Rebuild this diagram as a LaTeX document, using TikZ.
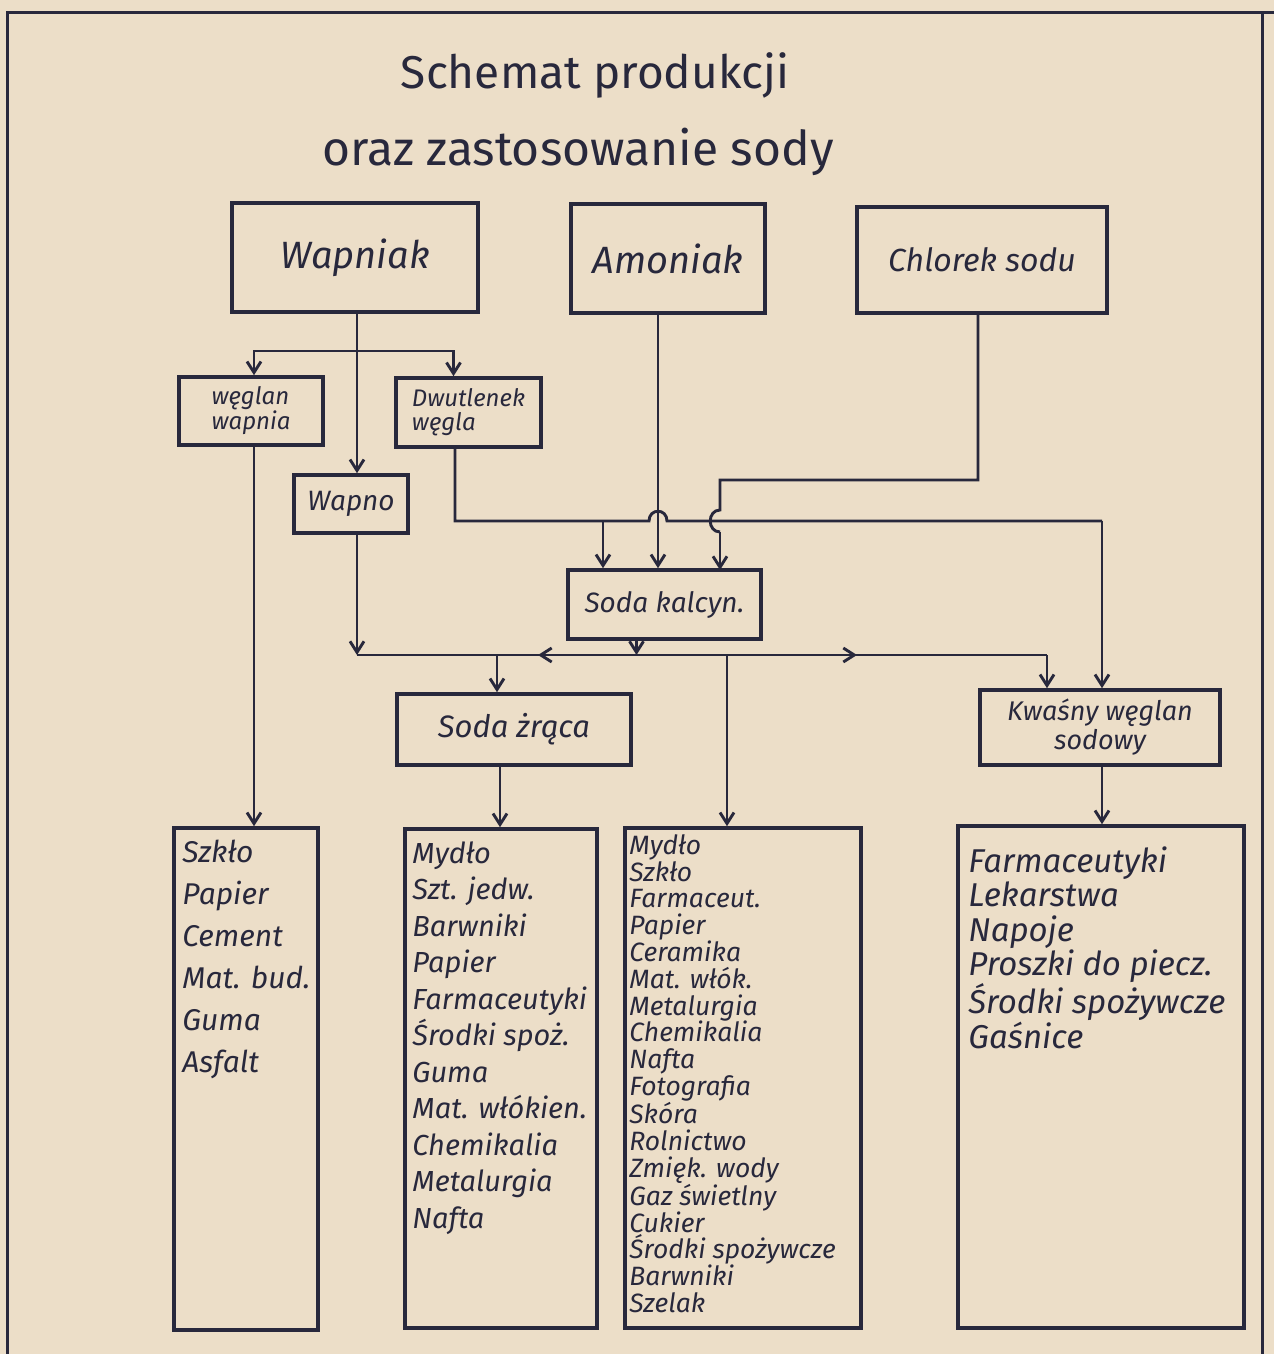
\documentclass[tikz,border=0pt]{standalone}
\usepackage{fontspec}
\setmainfont{Fira Sans}
\usetikzlibrary{arrows.meta}
\definecolor{paper}{RGB}{236,222,200}
\definecolor{ink}{RGB}{40,40,60}
\begin{document}
\begin{tikzpicture}[x=1pt,y=-1pt,
  box/.style={draw=ink, line width=3.6pt, inner sep=0pt, align=center, text=ink,
    font=\itshape\fontsize{#1}{#1}\selectfont},
  listtext/.style={inner sep=0pt, align=left, text=ink, anchor=north west,
    font=\itshape\fontsize{#1}{1.4*#1}\selectfont},
  wire/.style={draw=ink, line width=2.9pt},
  arr/.style={wire, -{Straight Barb[length=11pt,width=14pt]}},
  titletext/.style={text=ink, inner sep=0pt, font=\fontsize{#1}{#1}\selectfont}]
\useasboundingbox (0,0) rectangle (1274,1354);
\fill[paper] (0,0) rectangle (1274,1354);
% frame
\draw[ink, line width=3pt] (7,1354) -- (7,13) -- (1274,13);
\draw[ink, line width=3pt] (1262,13) -- (1262,1354);

% title
\node[titletext=46] (t1) at (595,75) {Schemat produkcji};
\node[titletext=48] (t2) at (578,152) {oraz zastosowanie sody};

% boxes
\node[box=38, minimum width=246pt, minimum height=109pt] (wap) at (355,257.5) {Wapniak};
\node[box=38, minimum width=194pt, minimum height=109pt] (amo) at (668,258.5) {Amoniak};
\node[box=32, minimum width=250pt, minimum height=106pt] (chl) at (982,260) {Chlorek sodu};
\node[box=24, minimum width=144pt, minimum height=68pt, align=left] (wwap) at (251,411) {węglan\\wapnia};
\node[box=24, minimum width=145pt, minimum height=69pt, align=left] (dwu) at (468.5,412.5) {Dwutlenek\\węgla};
\node[box=28, minimum width=114pt, minimum height=58pt] (wapno) at (351,504) {Wapno};
\node[box=28, minimum width=193pt, minimum height=69pt] (kalc) at (664.5,604.5) {Soda kalcyn.};
\node[box=31, minimum width=234pt, minimum height=71pt] (zrac) at (514,729.5) {Soda żrąca};
\node[box=27, minimum width=240pt, minimum height=75pt, font=\itshape\fontsize{27}{29}\selectfont] (kwas) at (1100,727.5) {Kwaśny węglan\\sodowy};

\node[box=10, minimum width=144pt, minimum height=502pt] (l1) at (246,1079) {};
\node[box=10, minimum width=192pt, minimum height=499pt] (l2) at (501,1078.5) {};
\node[box=10, minimum width=236pt, minimum height=500pt] (l3) at (743,1078) {};
\node[box=10, minimum width=286pt, minimum height=502pt] (l4) at (1101,1077) {};

% list texts
\node[listtext=30, font=\itshape\fontsize{30}{42}\selectfont] (x1) at ([xshift=10pt,yshift=-14pt]l1.north west)
  {Szkło\\Papier\\Cement\\Mat. bud.\\Guma\\Asfalt};
\node[listtext=29, font=\itshape\fontsize{29}{36.5}\selectfont] (x2) at ([xshift=9pt,yshift=-14pt]l2.north west)
  {Mydło\\Szt. jedw.\\Barwniki\\Papier\\Farmaceutyki\\Środki spoż.\\Guma\\Mat. włókien.\\Chemikalia\\Metalurgia\\Nafta};
\node[listtext=26.5, font=\itshape\fontsize{26.5}{26.8}\selectfont] (x3) at ([xshift=6pt,yshift=-8pt]l3.north west)
  {Mydło\\Szkło\\Farmaceut.\\Papier\\Ceramika\\Mat. włók.\\Metalurgia\\Chemikalia\\Nafta\\Fotografia\\Skóra\\Rolnictwo\\Zmięk. wody\\Gaz świetlny\\Cukier\\Środki spożywcze\\Barwniki\\Szelak};
\node[listtext=33, font=\itshape\fontsize{33}{34.5}\selectfont] (x4) at ([xshift=12pt,yshift=-22pt]l4.north west)
  {Farmaceutyki\\Lekarstwa\\Napoje\\Proszki do piecz.\\Środki spożywcze\\Gaśnice};

% connectors: Wapniak
\coordinate (bj) at (357,351);
\draw[wire] ([xshift=2pt]wap.south) -- (bj);
\draw[arr] (bj) -- (bj |- wapno.north);
\draw[arr] (bj) -| ([xshift=3pt]wwap.north);
\draw[arr] (bj) -| ([xshift=-15pt]dwu.north);
\draw[arr] ([xshift=3pt]wwap.south) -- ([xshift=3pt]wwap.south |- l1.north);

% Dwutlenek wegla line
\coordinate (jd) at (455,521);
\coordinate (jk) at (1102,521);
\coordinate (jc) at (603,521);
\draw[wire] ([xshift=-13.5pt]dwu.south) -- (jd) -- (649,521) .. controls (649,508) and (667,508) .. (667,521) -- (jk);
\draw[arr] (jk) -- (jk |- kwas.north);
\draw[arr] (jc) -- (jc |- kalc.north);

% Amoniak
\draw[arr] ([xshift=-10pt]amo.south) -- ([xshift=-10pt]amo.south |- kalc.north);

% Chlorek sodu
\coordinate (cc) at (978,480);
\coordinate (cl) at (720,480);
\draw[wire] ([xshift=-4pt]chl.south) -- (cc) -- (cl) -- (720,510) .. controls (707,510) and (707,532) .. (720,532);
\draw[arr] (720,532) -- (720 ,570);

% Wapno and Soda kalcyn to main line
\coordinate (m0) at (357,655);
\coordinate (m1) at (1047,655);
\draw[arr] ([xshift=6pt]wapno.south) -- (m0);
\draw[wire] (m0) -- (m1);
\draw[arr] (m1) -- (m1 |- kwas.north);
\draw[arr] ([xshift=-28pt]kalc.south) -- ([xshift=-28pt]kalc.south |- m0);
\draw[arr] (600,655) -- (538,655);
\draw[arr] (790,655) -- (857,655);
\coordinate (mz) at (497,655);
\coordinate (m3) at (727,655);
\draw[arr] (mz) -- (mz |- zrac.north);
\draw[arr] (m3) -- (m3 |- l3.north);

% outputs
\draw[arr] ([xshift=-14pt]zrac.south) -- ([xshift=-14pt]zrac.south |- l2.north);
\draw[arr] ([xshift=2pt]kwas.south) -- ([xshift=2pt]kwas.south |- l4.north);
\end{tikzpicture}
\end{document}
